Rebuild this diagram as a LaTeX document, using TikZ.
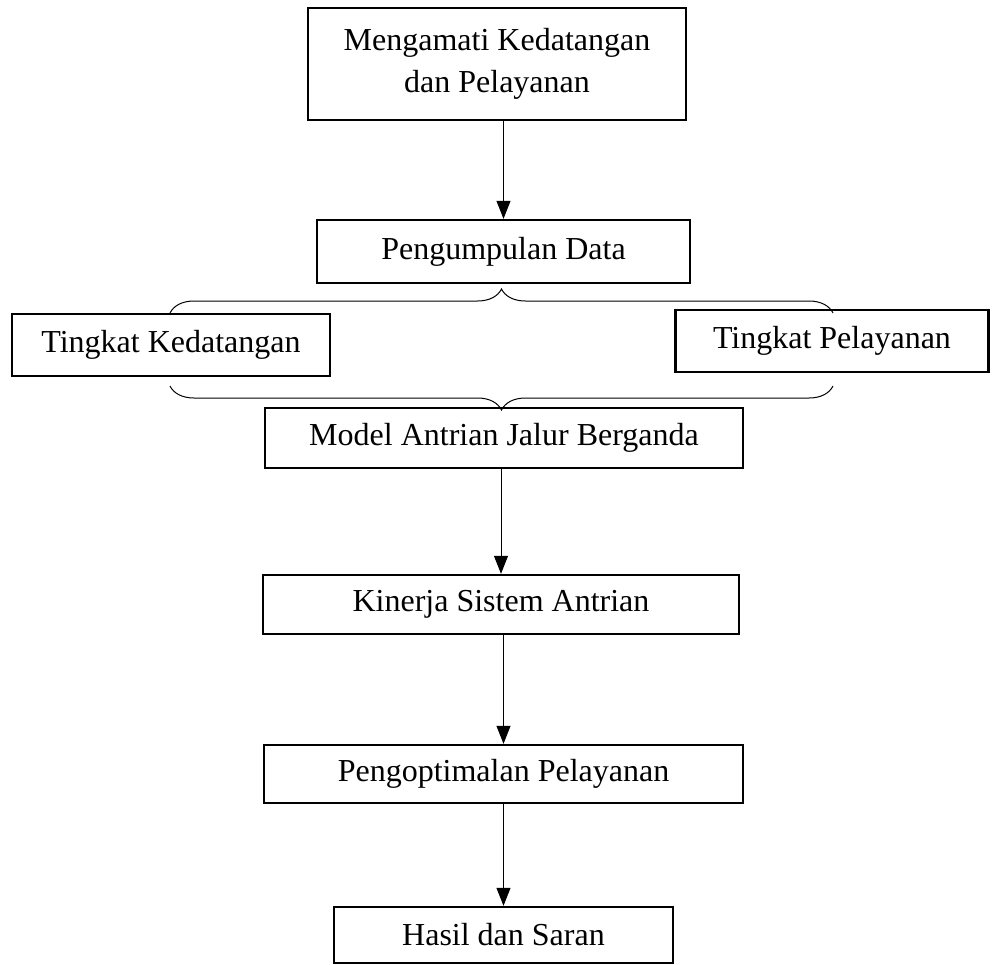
\documentclass[tikz,border=0pt]{standalone}
\usepackage{fontspec}
\setmainfont{Liberation Serif}
\usetikzlibrary{arrows.meta,decorations.pathreplacing}

\begin{document}
\begin{tikzpicture}[x=0.5pt,y=-0.5pt,
	kotak/.style={draw,line width=1.2pt,inner sep=0pt,align=center,font=\fontsize{16}{21}\selectfont},
	panah/.style={-{Triangle[width=7pt,length=9pt]},line width=0.5pt},
	kurung/.style={decorate,decoration={brace,amplitude=12pt},line width=0.5pt}]
	\useasboundingbox (0,0) rectangle (992,965);
	
	\node[kotak,minimum width=189pt,minimum height=56pt] (amati) at (497,64) {Mengamati Kedatangan\\dan Pelayanan};
	\node[kotak,minimum width=186.5pt,minimum height=31.5pt] (data) at (503.5,251.5) {Pengumpulan Data};
	\node[kotak,minimum width=159pt,minimum height=31pt] (datang) at (171,345) {Tingkat Kedatangan};
	\node[kotak,minimum width=156.5pt,minimum height=31pt] (layan) at (832,341) {Tingkat Pelayanan};
	\node[kotak,minimum width=239pt,minimum height=30pt] (model) at (504,438) {Model Antrian Jalur Berganda};
	\node[kotak,minimum width=238pt,minimum height=29.5pt] (kinerja) at (501,604.5) {Kinerja Sistem Antrian};
	\node[kotak,minimum width=239.5pt,minimum height=29pt] (optimal) at (503.5,774) {Pengoptimalan Pelayanan};
	\node[kotak,minimum width=169.5pt,minimum height=28pt] (hasil) at (503.5,935) {Hasil dan Saran};
	
	\coordinate (ka1) at (170,313);
	\coordinate (ka2) at (833,313);
	\coordinate (kb1) at (833,386);
	\coordinate (kb2) at (170,386);
	\draw[kurung] (ka1) -- (ka2);
	\draw[kurung] (kb1) -- (kb2);
	
	\draw[panah] (amati.south -| data.north) -- (data.north);
	\draw[panah] (model.south -| kinerja.north) -- (kinerja.north);
	\draw[panah] (kinerja.south -| optimal.north) -- (optimal.north);
	\draw[panah] (optimal.south -| hasil.north) -- (hasil.north);
	
\end{tikzpicture}
\end{document}
